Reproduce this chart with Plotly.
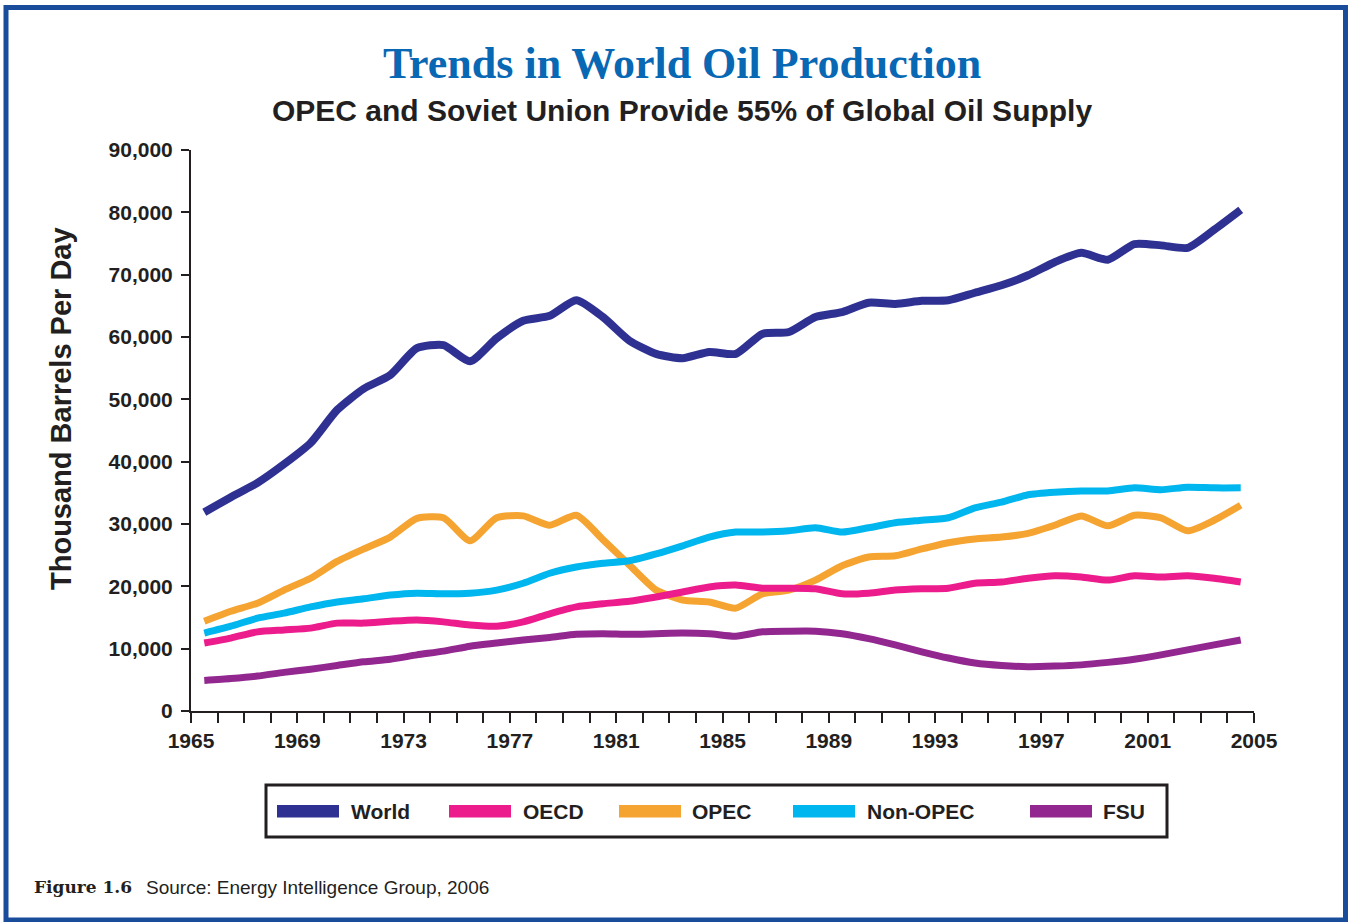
import plotly.graph_objects as go

# Annual production, thousand barrels per day
years = list(range(1965, 2005))

world = [31900, 34300, 36600, 39600, 43000, 48300, 51700, 53900, 58200, 58700,
         56100, 59800, 62600, 63400, 65900, 63200, 59400, 57300, 56600, 57600,
         57300, 60500, 60800, 63200, 64000, 65500, 65300, 65800, 65900, 67100,
         68300, 69900, 72000, 73500, 72400, 74900, 74700, 74300, 77200, 80400]

oecd = [10900, 11700, 12700, 13000, 13300, 14100, 14100, 14400, 14600, 14300,
        13800, 13600, 14300, 15600, 16700, 17200, 17600, 18300, 19100, 19900,
        20200, 19700, 19700, 19600, 18800, 18900, 19400, 19600, 19700, 20500,
        20700, 21300, 21700, 21500, 21000, 21700, 21500, 21700, 21300, 20700]

opec = [14400, 16000, 17300, 19400, 21300, 24000, 26000, 27900, 30900, 31000,
        27300, 31000, 31300, 29800, 31400, 27500, 23400, 19400, 17800, 17500,
        16500, 18800, 19400, 21000, 23300, 24700, 24900, 26000, 27000, 27600,
        27900, 28500, 29800, 31300, 29700, 31400, 31000, 28900, 30600, 33000]

non_opec = [12500, 13600, 14900, 15700, 16700, 17500, 18000, 18600, 18900, 18800,
            18900, 19400, 20500, 22100, 23100, 23700, 24100, 25200, 26500, 27900,
            28700, 28700, 28900, 29400, 28700, 29400, 30200, 30600, 31000, 32600,
            33500, 34700, 35100, 35300, 35300, 35800, 35500, 35900, 35800, 35800]

fsu = [4900, 5200, 5600, 6200, 6700, 7300, 7900, 8300, 9000, 9600,
       10400, 10900, 11400, 11800, 12300, 12400, 12300, 12400, 12500, 12400,
       12000, 12700, 12800, 12800, 12400, 11600, 10600, 9500, 8500, 7700,
       7300, 7100, 7200, 7400, 7800, 8300, 9000, 9800, 10600, 11400]

series_names = ["World", "OECD", "OPEC", "Non-OPEC", "FSU"]
series_colors = ["#2E3192", "#EC1C8C", "#F5A431", "#00B6EE", "#92278F"]
series_values = [world, oecd, opec, non_opec, fsu]

x_tick_years = list(range(1965, 2006, 4))

# Each annual value is drawn at mid-year
x_mid = [y + 0.5 for y in years]

W, H = 1348, 922
L, R, T, B = 191, 1254, 150, 711  # plot area in pixels


def px(x):
    return (x - L) / (R - L)


def py(y):
    return (B - y) / (B - T)


SANS = "Liberation Sans, Arial, Helvetica, sans-serif"
INK = "#231F20"

fig = go.Figure()

# OPEC sits underneath the other regional lines
draw_order = ["OPEC", "FSU", "OECD", "Non-OPEC", "World"]
for name in draw_order:
    i = series_names.index(name)
    fig.add_trace(go.Scatter(
        x=x_mid, y=series_values[i], name=name, mode="lines",
        line=dict(color=series_colors[i], width=8 if name == "World" else 7,
                  shape="spline", smoothing=0.6),
        showlegend=False,
        hovertemplate="%{y:,} (" + name + ")<extra></extra>",
    ))

fig.update_layout(
    width=W, height=H,
    margin=dict(l=L, r=W - R, t=T, b=H - B),
    paper_bgcolor="white", plot_bgcolor="white",
    font=dict(family=SANS, color=INK),
)

fig.update_xaxes(
    range=[1965, 2005], showgrid=False, zeroline=False,
    showline=True, linecolor=INK, linewidth=2,
    tickvals=x_tick_years, ticktext=[str(v) for v in x_tick_years],
    ticks="outside", ticklen=10, tickwidth=2, tickcolor=INK,
    minor=dict(dtick=1, tick0=1965, ticks="outside", ticklen=10, tickwidth=2, tickcolor=INK),
    tickfont=dict(family=SANS, size=21, color=INK, weight="bold"),
)
fig.update_yaxes(
    range=[0, 90000], dtick=10000, tickformat=",", showgrid=False, zeroline=False,
    showline=True, linecolor=INK, linewidth=2,
    ticks="outside", ticklen=8, tickwidth=2, tickcolor=INK,
    ticklabelstandoff=4,
    tickfont=dict(family=SANS, size=21, color=INK, weight="bold"),
)

annotations = [
    dict(text="Trends in World Oil Production", x=px(682), y=py(64),
         font=dict(family="Liberation Serif, Times New Roman, serif", size=44,
                   color="#0868B4", weight="bold")),
    dict(text="OPEC and Soviet Union Provide 55% of Global Oil Supply", x=px(682), y=py(111),
         font=dict(family=SANS, size=30, color=INK, weight="bold")),
    dict(text="Thousand Barrels Per Day", x=px(61), y=py(409), textangle=-90,
         font=dict(family=SANS, size=29, color=INK, weight="bold")),
    dict(text="<b>Figure 1.6</b>", x=px(32), y=py(887), xanchor="left",
         font=dict(family="DejaVu Serif, serif", size=17, color=INK)),
    dict(text="Source: Energy Intelligence Group, 2006", x=px(144), y=py(887), xanchor="left",
         font=dict(family=SANS, size=19, color=INK)),
]

shapes = [
    # page frame
    dict(type="rect", xref="paper", yref="paper",
         x0=px(6), x1=px(1345.5), y0=py(7.5), y1=py(920),
         line=dict(color="#1A4C9C", width=5), layer="above"),
    # legend box
    dict(type="rect", xref="paper", yref="paper",
         x0=px(266), x1=px(1167), y0=py(785), y1=py(837),
         line=dict(color=INK, width=3)),
]

# Legend entries: swatch start and label start in pixels
legend_swatch_x = [277, 449, 619, 793, 1030]
legend_text_x = [349, 521, 690, 865, 1101]
for i, name in enumerate(series_names):
    shapes.append(dict(type="rect", xref="paper", yref="paper",
                       x0=px(legend_swatch_x[i]), x1=px(legend_swatch_x[i] + 62),
                       y0=py(805), y1=py(817.5),
                       fillcolor=series_colors[i], line=dict(width=0)))
    annotations.append(dict(text=name, x=px(legend_text_x[i]), y=py(811), xanchor="left",
                            font=dict(family=SANS, size=21, color=INK, weight="bold")))

for a in annotations:
    a.setdefault("xref", "paper")
    a.setdefault("yref", "paper")
    a.setdefault("showarrow", False)
    a.setdefault("yanchor", "middle")
    a.setdefault("xanchor", "center")

fig.update_layout(annotations=annotations, shapes=shapes)

fig.write_html("out.html", config={"displayModeBar": False})
